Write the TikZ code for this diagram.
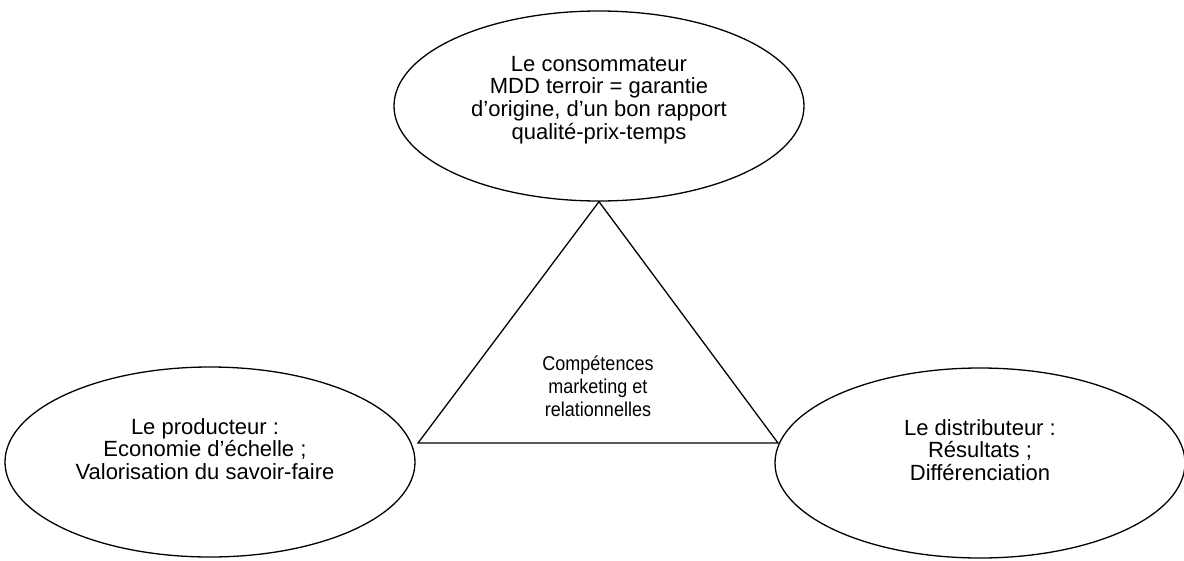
\documentclass[tikz,border=0pt]{standalone}
\usepackage{fontspec}
\setmainfont{Liberation Sans}
\newfontfamily\etroite[FakeStretch=0.9]{Liberation Sans}
\usetikzlibrary{shapes.geometric}

\begin{document}
\begin{tikzpicture}[x=1pt, y=-1pt, line width=1.3pt,
    every node/.style = {align=center, font=\fontsize{22}{22.7}\selectfont},
    acteur/.style = {shape=ellipse, draw, minimum width=410pt, minimum height=190pt, inner sep=0pt}]
    \useasboundingbox (0,0) rectangle (1184,560);
    % les trois acteurs
    \node[acteur] (conso) at (599,106) {};
    \node[acteur] (prod) at (210,462) {};
    \node[acteur] (distrib) at (980,463) {};
    \node (consotxt) at (599,100) {Le consommateur\\MDD terroir = garantie\\d’origine, d’un bon rapport\\qualité-prix-temps};
    \node (prodtxt) at (205,449) {Le producteur :\\Economie d’échelle ;\\Valorisation du savoir-faire};
    \node (distribtxt) at (980,450) {Le distributeur :\\Résultats ;\\Différenciation};
    % le triangle
    \coordinate (sommet) at (conso.south);
    \coordinate (gauche) at (418,443);
    \coordinate (droite) at (778,443);
    \draw (sommet) -- (gauche) -- (droite) -- cycle;
    \node[font=\etroite\fontsize{20}{23}\selectfont] (competences) at (598,386) {Compétences\\marketing et\\relationnelles};
\end{tikzpicture}
\end{document}
